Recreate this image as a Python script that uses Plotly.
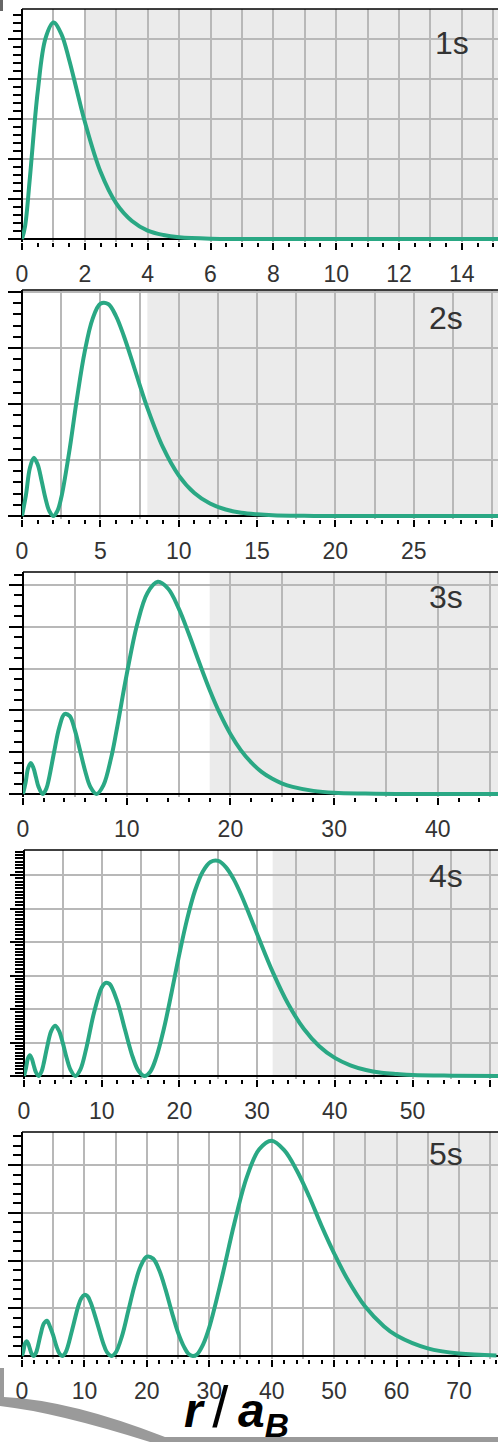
import plotly.graph_objects as go

# ---------------- data ----------------
r_1s = [0, 0.1, 0.25, 0.5, 0.75, 1.0, 1.25, 1.5, 1.75, 2.0, 2.5, 3.0, 3.5, 4.0, 4.5, 5.0, 6.0, 7.0, 8.0, 10, 12, 15.2]
p_1s = [0, 0.033, 0.152, 0.368, 0.502, 0.541, 0.513, 0.448, 0.370, 0.293, 0.168, 0.089, 0.045, 0.021, 0.010, 0.0045,
        0.0009, 0.0002, 0, 0, 0, 0]

r_2s = [0, 0.25, 0.5, 0.75, 1.0, 1.25, 1.5, 1.75, 2.0, 2.25, 2.5, 3, 3.5, 4, 4.5, 5, 5.5, 6, 6.5, 7,
        7.5, 8, 9, 10, 11, 12, 13, 14, 15, 16, 18, 20, 25, 30.4]
p_2s = [0, 0.0186, 0.0426, 0.0519, 0.0460, 0.0315, 0.0157, 0.0042, 0, 0.0042, 0.0160, 0.0560, 0.1041, 0.1465,
        0.1758, 0.1895, 0.1893, 0.1785, 0.1607, 0.1396, 0.1176, 0.0966, 0.0612, 0.0363, 0.0205, 0.0111, 0.0058,
        0.0029, 0.0015, 0.0007, 0.0002, 0, 0, 0]

r_3s = [0, 0.25, 0.5, 0.75, 1.0, 1.25, 1.5, 1.9, 2.25, 2.5, 3, 3.5, 4, 4.5, 5, 5.5, 6, 6.5, 7.1, 7.75,
        8.5, 9, 10, 11, 12, 13, 14, 15, 16, 17, 18, 19, 20, 21, 22, 23, 24, 25, 26, 28, 30, 33, 36, 40, 46]
p_3s = [0, 0.0055, 0.0125, 0.0148, 0.0126, 0.0080, 0.0034, 0, 0.0026, 0.0073, 0.0201, 0.0319, 0.0382, 0.0373,
        0.0306, 0.0208, 0.0109, 0.0034, 0, 0.0041, 0.0174, 0.0298, 0.0572, 0.0810, 0.0962, 0.1015, 0.0982,
        0.0889, 0.0764, 0.0628, 0.0498, 0.0383, 0.0287, 0.0210, 0.0151, 0.0106, 0.0074, 0.0050, 0.0034,
        0.0015, 0.0006, 0.0002, 0, 0, 0]

r_4s = [0, 0.25, 0.5, 0.75, 1.0, 1.25, 1.5, 1.87, 2.25, 2.5, 3, 3.5, 4, 4.5, 5, 5.5, 6, 6.61, 7.25, 8,
        9, 10, 10.5, 11, 12, 13, 14, 14.75, 15.52, 16.25, 17, 18, 19, 20, 21, 22, 23, 24, 25, 26,
        27, 28, 30, 32, 34, 36, 38, 40, 42, 44, 46, 48, 50, 55, 61]
p_4s = [0, 0.0023, 0.0052, 0.0062, 0.0052, 0.0032, 0.0013, 0, 0.0013, 0.0034, 0.0089, 0.0134, 0.0150, 0.0135,
        0.0098, 0.0053, 0.0018, 0, 0.0019, 0.0081, 0.0188, 0.0264, 0.0278, 0.0275, 0.0223, 0.0138, 0.0056,
        0.0015, 0, 0.0013, 0.0054, 0.0141, 0.0250, 0.0365, 0.0469, 0.0553, 0.0610, 0.0639, 0.0642, 0.0623,
        0.0587, 0.0538, 0.0424, 0.0311, 0.0215, 0.0141, 0.0089, 0.0054, 0.0032, 0.0018, 0.0010, 0.0006,
        0.0003, 0.0001, 0]

r_5s = [0, 0.25, 0.5, 0.75, 1.0, 1.25, 1.5, 1.86, 2.25, 2.5, 3, 3.5, 4, 4.5, 5, 5.5, 6, 6.43, 7, 8,
        9, 9.5, 10, 10.5, 11, 12, 13, 13.6, 14.33, 15, 16, 17, 18, 19, 20, 21, 22, 23, 24, 25,
        26, 26.7, 27.36, 28, 29, 30, 32, 34, 36, 38, 40, 42, 44, 46, 48, 50, 52, 55, 58, 60, 65, 70, 76]
p_5s = [0, 0.0012, 0.0027, 0.0031, 0.0026, 0.0016, 0.0006, 0, 0.0007, 0.0018, 0.0046, 0.0068, 0.0074, 0.0061,
        0.0043, 0.0021, 0.0005, 0, 0.0008, 0.0053, 0.0104, 0.0121, 0.0128, 0.0125, 0.0112, 0.0071, 0.0027,
        0.0008, 0, 0.0007, 0.0041, 0.0093, 0.0146, 0.0188, 0.0208, 0.0204, 0.0179, 0.0139, 0.0092, 0.0049,
        0.0018, 0.0004, 0, 0.0003, 0.0024, 0.0060, 0.0163, 0.0277, 0.0374, 0.0433, 0.0451, 0.0431, 0.0389,
        0.0334, 0.0272, 0.0215, 0.0164, 0.0103, 0.0062, 0.0043, 0.0016, 0.0005, 0.0001]

orbital_labels = ['1s', '2s', '3s', '4s', '5s']
turning_points = [2, 8, 18, 32, 50]          # r/a_B where the grey (forbidden) region starts
x_label_steps = [2, 5, 10, 10, 10]
x_minor_steps = [0.5, 1, 2, 2, 2]
x_grid_steps = [1, 2.5, 5, 5, 5]
y_grid_steps = [0.1, 0.05, 0.02, 0.01, 0.01]
y_minor_steps = [0.02, 0.01, 0.005, 0.001, 0.002]
curves = [(r_1s, p_1s), (r_2s, p_2s), (r_3s, p_3s), (r_4s, p_4s), (r_5s, p_5s)]

# ---------------- layout geometry (pixels) ----------------
W, H = 498, 1442
geom = [
    dict(top=9, axis=239, left=22, xmax=15.15, ppu=400, lab=(452, 43)),
    dict(top=290, axis=516, left=22, xmax=30.38, ppu=1120, lab=(446, 318)),
    dict(top=572, axis=794, left=23, xmax=45.8, ppu=2090, lab=(446, 597)),
    dict(top=850, axis=1076, left=24, xmax=61.0, ppu=3350, lab=(446, 876)),
    dict(top=1132, axis=1356, left=22, xmax=76.25, ppu=4775, lab=(446, 1154)),
]
BELOW = 3  # px of plot area under the zero line so the curve is not clipped

GREEN = '#2aa884'
GRID = '#b8b8b8'
SHADE = '#ebebeb'
FONT = 'Liberation Sans, Arial, Helvetica, sans-serif'


def px(x):
    return x / W


def py(y):
    return 1 - y / H


fig = go.Figure()
layout = dict(width=W, height=H, margin=dict(l=0, r=0, t=0, b=0, pad=0), autosize=False,
              paper_bgcolor='white', plot_bgcolor='white', showlegend=False)
shapes, annotations = [], []

for i, g in enumerate(geom):
    n = i + 1
    sx = '' if n == 1 else str(n)
    so = str(n + 5)
    ymax = (g['axis'] - g['top']) / g['ppu']
    ymin = -BELOW / g['ppu']
    ydom = [py(g['axis'] + BELOW), py(g['top'])]
    xdom = [px(g['left']), 1]
    xr = [0, g['xmax']]

    r, p = curves[i]
    fig.add_trace(go.Scatter(x=r, y=p, mode='lines', xaxis='x' + sx, yaxis='y' + sx,
                             line=dict(color=GREEN, width=4, shape='spline', smoothing=1.0),
                             hoverinfo='skip'))
    fig.add_trace(go.Scatter(x=[0], y=[0], mode='markers', xaxis='x' + so, yaxis='y' + sx,
                             marker=dict(opacity=0), hoverinfo='skip'))

    # grid axis (its zero line is the black left axis line)
    layout['xaxis' + sx] = dict(domain=xdom, range=xr, anchor='y' + sx, automargin=False,
                                showgrid=True, gridcolor=GRID, gridwidth=1.5, tick0=0,
                                dtick=x_grid_steps[i], ticks='', showticklabels=False,
                                zeroline=True, zerolinecolor='black', zerolinewidth=1.6,
                                showline=False, fixedrange=True)
    # tick / label axis
    layout['xaxis' + so] = dict(overlaying='x' + sx, anchor='y' + sx, range=xr, side='bottom',
                                automargin=False, showgrid=False, zeroline=False, showline=False,
                                tick0=0, dtick=x_label_steps[i], ticks='outside', ticklen=7,
                                tickwidth=1.5, tickcolor='black', ticklabelstandoff=4,
                                tickfont=dict(family=FONT, size=23, color='#333333'),
                                minor=dict(tick0=0, dtick=x_minor_steps[i], ticks='outside', ticklen=4,
                                           tickwidth=1.5, tickcolor='black', showgrid=False),
                                fixedrange=True)
    layout['yaxis' + sx] = dict(domain=ydom, range=[ymin, ymax], anchor='x' + sx, automargin=False,
                                showgrid=True, gridcolor=GRID, gridwidth=1.5, tick0=0,
                                dtick=y_grid_steps[i], ticks='outside', ticklen=13, tickwidth=1.5,
                                tickcolor='black', showticklabels=False, zeroline=True,
                                zerolinecolor='black', zerolinewidth=1.6, showline=False,
                                minor=dict(tick0=0, dtick=y_minor_steps[i], ticks='outside', ticklen=8,
                                           tickwidth=1.5, tickcolor='black', showgrid=False),
                                fixedrange=True)

    # grey classically-forbidden region
    shapes.append(dict(type='rect', xref='x' + sx, yref='y' + sx, x0=turning_points[i], x1=g['xmax'],
                       y0=0, y1=ymax, fillcolor=SHADE, line=dict(width=0), layer='below'))
    # top frame line
    shapes.append(dict(type='line', xref='x' + sx + ' domain', yref='y' + sx + ' domain', x0=0, x1=1,
                       y0=1, y1=1, line=dict(color='black', width=1.6), layer='above'))

    annotations.append(dict(text=orbital_labels[i], xref='paper', yref='paper', x=px(g['lab'][0]),
                            y=py(g['lab'][1]), xanchor='center', yanchor='middle', showarrow=False,
                            font=dict(family=FONT, size=32, color='#333333')))

# axis title r/a_B
annotations.append(dict(text=('<b><i>r</i></b>\u2009<span style="font-size:58px">/</span>\u2009'
                              '<b><i>a<sub>B</sub></i></b>'),
                        xref='paper', yref='paper',
                        x=px(236), y=py(1409), xanchor='center', yanchor='middle', showarrow=False,
                        font=dict(family=FONT, size=48, color='black')))

# decorative page-curl at the bottom left and corner mark at the top left
shapes.append(dict(type='path', xref='paper', yref='paper',
                   path=('M {a},{b} L {c},{b} L {c},{d} Q {e},{f} {g},{h} L 1,{h} L 1,0 L {i},0 '
                         'Q {j},{k} 0,{l} Z').format(
                       a=px(0), b=py(1368), c=px(4), d=py(1397), e=px(70), f=py(1400), g=px(165),
                       h=py(1437), i=px(150), j=px(55), k=py(1412), l=py(1406)),
                   fillcolor='#9a9a9a', line=dict(width=0), layer='below'))
shapes.append(dict(type='rect', xref='paper', yref='paper', x0=0, x1=px(3), y0=py(11), y1=1,
                   fillcolor='#666666', line=dict(width=0), layer='above'))

layout['shapes'] = shapes
layout['annotations'] = annotations
fig.update_layout(**layout)
fig.write_html('out.html')
